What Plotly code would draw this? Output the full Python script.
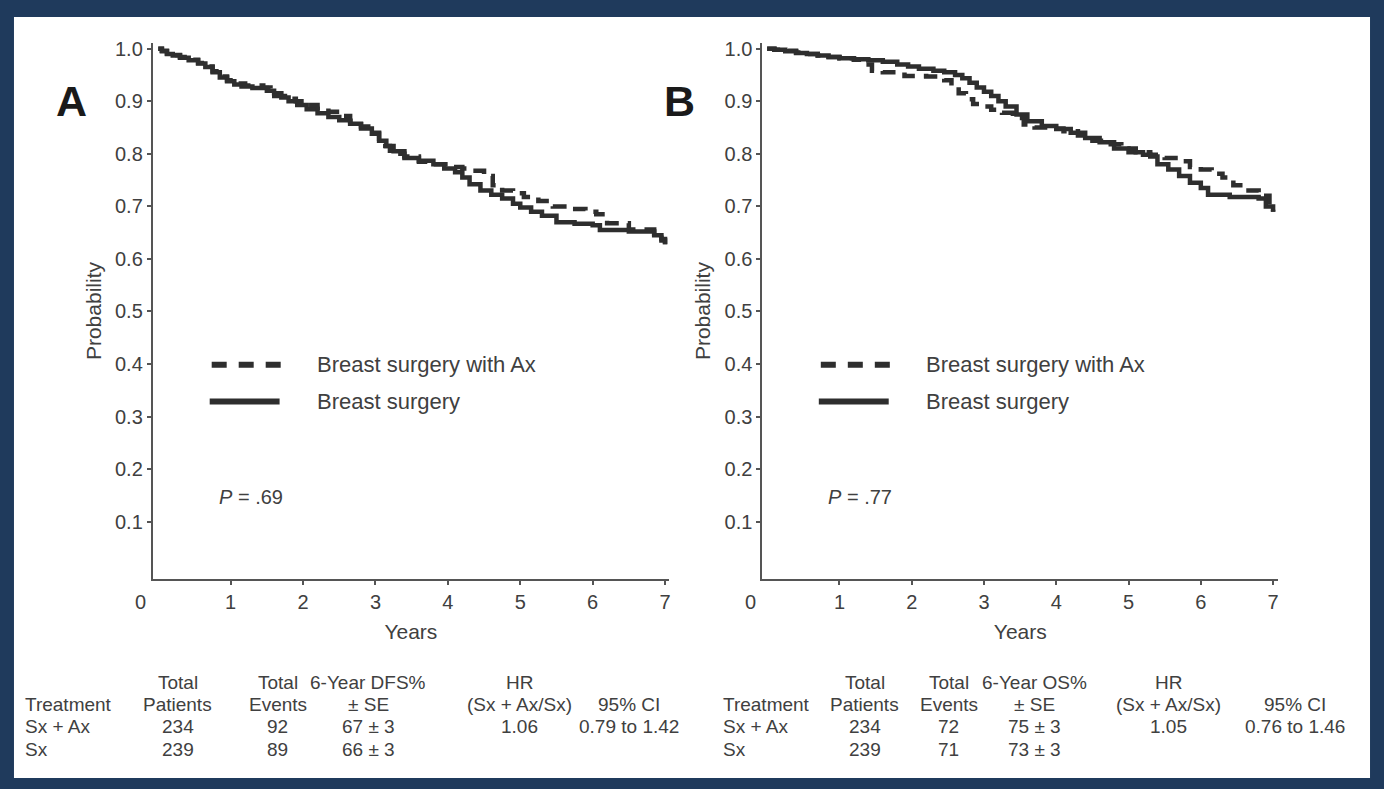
import plotly.graph_objects as go

W, H = 1384, 789

# ---------------- data ----------------
# Panel A: disease-free survival
a_sx_t = [0, 0.05, 0.12, 0.2, 0.3, 0.42, 0.55, 0.65, 0.75, 0.85, 0.95, 1.05, 1.15, 1.3, 1.5, 1.6, 1.7, 1.8,
          1.92, 2.05, 2.2, 2.35, 2.5, 2.65, 2.8, 2.95, 3.05, 3.15, 3.25, 3.4, 3.6, 3.8, 3.95, 4.1, 4.2, 4.3,
          4.45, 4.6, 4.75, 4.9, 5.0, 5.15, 5.3, 5.5, 5.75, 6.0, 6.1, 6.5, 6.85, 6.95, 7.0]
a_sx_p = [1.0, 0.995, 0.99, 0.987, 0.983, 0.978, 0.972, 0.965, 0.955, 0.945, 0.938, 0.932, 0.928, 0.925,
          0.92, 0.915, 0.907, 0.9, 0.893, 0.885, 0.877, 0.87, 0.864, 0.857, 0.848, 0.838, 0.825, 0.815,
          0.805, 0.792, 0.787, 0.78, 0.772, 0.765, 0.755, 0.742, 0.73, 0.722, 0.715, 0.705, 0.698, 0.69,
          0.682, 0.67, 0.667, 0.664, 0.655, 0.652, 0.645, 0.635, 0.628]
a_ax_t = [0, 0.05, 0.12, 0.2, 0.3, 0.42, 0.55, 0.65, 0.75, 0.85, 0.95, 1.05, 1.2, 1.45, 1.55, 1.75, 1.9,
          2.05, 2.2, 2.35, 2.5, 2.65, 2.8, 2.95, 3.05, 3.2, 3.4, 3.6, 3.8, 4.0, 4.2, 4.35, 4.5, 4.62, 4.75,
          4.9, 5.05, 5.25, 5.45, 5.65, 5.9, 6.05, 6.2, 6.5, 6.85, 6.95, 7.0]
a_ax_p = [1.0, 0.996, 0.991, 0.988, 0.984, 0.979, 0.973, 0.966, 0.957, 0.947, 0.94, 0.934, 0.93, 0.926,
          0.91, 0.905, 0.9, 0.893, 0.887, 0.88, 0.872, 0.862, 0.852, 0.84, 0.815, 0.8, 0.795, 0.785, 0.78,
          0.775, 0.772, 0.768, 0.758, 0.74, 0.73, 0.725, 0.718, 0.71, 0.7, 0.695, 0.69, 0.685, 0.668,
          0.656, 0.648, 0.638, 0.628]

# Panel B: overall survival
b_sx_t = [0, 0.1, 0.25, 0.4, 0.55, 0.7, 0.85, 1.0, 1.2, 1.4, 1.6, 1.8, 1.95, 2.1, 2.3, 2.45, 2.6, 2.7,
          2.8, 2.9, 3.0, 3.1, 3.2, 3.3, 3.45, 3.6, 3.8, 4.0, 4.2, 4.4, 4.6, 4.8, 5.0, 5.2, 5.3, 5.4, 5.55,
          5.7, 5.85, 6.0, 6.1, 6.4, 6.8, 6.9, 7.0]
b_sx_p = [1.0, 0.998, 0.995, 0.992, 0.99, 0.987, 0.984, 0.982, 0.98, 0.978, 0.975, 0.97, 0.966, 0.962,
          0.958, 0.955, 0.95, 0.944, 0.935, 0.926, 0.918, 0.91, 0.9, 0.89, 0.875, 0.862, 0.853, 0.847,
          0.84, 0.83, 0.822, 0.81, 0.803, 0.798, 0.795, 0.78, 0.77, 0.758, 0.745, 0.735, 0.722, 0.718,
          0.715, 0.70, 0.69]
b_ax_t = [0, 0.1, 0.25, 0.4, 0.55, 0.7, 0.85, 1.0, 1.2, 1.3, 1.45, 1.6, 1.9, 2.2, 2.45, 2.55, 2.65, 2.75,
          2.85, 2.95, 3.1, 3.25, 3.4, 3.55, 3.7, 3.9, 4.1, 4.3, 4.5, 4.7, 4.9, 5.1, 5.3, 5.5, 5.65, 5.85,
          6.0, 6.15, 6.3, 6.45, 6.6, 6.8, 6.95, 7.0]
b_ax_p = [1.0, 0.998, 0.996, 0.993, 0.99, 0.987, 0.984, 0.982, 0.979, 0.97, 0.958, 0.955, 0.948, 0.947,
          0.94, 0.928, 0.915, 0.904, 0.895, 0.89, 0.884, 0.878, 0.868, 0.856, 0.85, 0.848, 0.843, 0.835,
          0.825, 0.818, 0.81, 0.803, 0.798, 0.792, 0.786, 0.775, 0.77, 0.762, 0.755, 0.74, 0.73, 0.72,
          0.70, 0.69]

series_names = ["Breast surgery with Ax", "Breast surgery"]
p_values = ["<i>P</i> = .69", "<i>P</i> = .77"]
panel_letters = ["A", "B"]
y_ticks = [0.1, 0.2, 0.3, 0.4, 0.5, 0.6, 0.7, 0.8, 0.9, 1.0]
x_ticks = [1, 2, 3, 4, 5, 6, 7]

treatments = ["Sx + Ax", "Sx"]
A_header1 = ["", "Total", "Total", "6-Year DFS%", "HR", ""]
A_header2 = ["Treatment", "Patients", "Events", "± SE", "(Sx + Ax/Sx)", "95% CI"]
A_patients = ["234", "239"]
A_events = ["92", "89"]
A_rate = ["67 ± 3", "66 ± 3"]
A_hr = ["1.06", ""]
A_ci = ["0.79 to 1.42", ""]

B_header1 = ["", "Total", "Total", "6-Year OS%", "HR", ""]
B_header2 = ["Treatment", "Patients", "Events", "± SE", "(Sx + Ax/Sx)", "95% CI"]
B_patients = ["234", "239"]
B_events = ["72", "71"]
B_rate = ["75 ± 3", "73 ± 3"]
B_hr = ["1.05", ""]
B_ci = ["0.76 to 1.46", ""]

# ---------------- styling ----------------
FONT = "Liberation Sans, Arial, Helvetica, sans-serif"
TXT = "#404040"
LINE = "#2e2e2e"
AXC = "#555555"
NAVY = "#1f3a5c"
FS = 20
TFS = 19


def px(x):
    return x / W


def py(y):
    return 1 - y / H


fig = go.Figure()

panels = [
    dict(xa="x", ya="y", sx=(a_sx_t, a_sx_p), ax=(a_ax_t, a_ax_p)),
    dict(xa="x2", ya="y2", sx=(b_sx_t, b_sx_p), ax=(b_ax_t, b_ax_p)),
]
for pn in panels:
    fig.add_trace(go.Scatter(x=pn["sx"][0], y=pn["sx"][1], mode="lines", line_shape="hv",
                             line=dict(color=LINE, width=4.5), xaxis=pn["xa"], yaxis=pn["ya"],
                             name=series_names[1], showlegend=False))
    fig.add_trace(go.Scatter(x=pn["ax"][0], y=pn["ax"][1], mode="lines", line_shape="hv",
                             line=dict(color=LINE, width=4.5, dash="14px,9px"), xaxis=pn["xa"],
                             yaxis=pn["ya"], name=series_names[0], showlegend=False))

# pixel layout
y_top, y_bot = 38, 578
A_left, A_right = 153, 670
B_left, B_right = 763.5, 1280

common_y = dict(range=[-0.0096, 1.0113], tickvals=y_ticks, ticktext=[f"{v:.1f}" for v in y_ticks],
                showline=True, linecolor=AXC, linewidth=2, ticks="outside", ticklen=4, tickcolor=AXC,
                tickwidth=1.5, showgrid=False, zeroline=False,
                tickfont=dict(family=FONT, size=FS, color=TXT),
                title=dict(text="Probability", font=dict(family=FONT, size=FS + 1, color=TXT), standoff=8),
                domain=[py(y_bot), py(y_top)])
common_x = dict(tickvals=x_ticks, ticktext=[str(v) for v in x_ticks], showline=True, linecolor=AXC,
                linewidth=2, ticks="outside", ticklen=4, tickcolor=AXC, tickwidth=1.5, showgrid=False,
                zeroline=False, tickfont=dict(family=FONT, size=FS, color=TXT), ticklabelstandoff=0,
                title=dict(text="Years", font=dict(family=FONT, size=FS + 1, color=TXT), standoff=12))

fig.update_layout(
    width=W, height=H, margin=dict(l=0, r=0, t=0, b=0),
    paper_bgcolor=NAVY, plot_bgcolor="white",
    xaxis=dict(common_x, range=[-0.076, 7.055], domain=[px(A_left), px(A_right)], anchor="y"),
    yaxis=dict(common_y, anchor="x"),
    xaxis2=dict(common_x, range=[-0.066, 7.07], domain=[px(B_left), px(B_right)], anchor="y2"),
    yaxis2=dict(common_y, anchor="x2"),
    showlegend=False,
)

shapes = [dict(type="rect", xref="paper", yref="paper", x0=px(14), x1=px(1372), y0=py(778), y1=py(12),
               fillcolor="white", line=dict(width=0), layer="below")]
annotations = []

# legends, letters, P values, "0" labels
for i, (xoff, left) in enumerate([(0, A_left), (610, B_left)]):
    shapes.append(dict(type="line", xref="paper", yref="paper", x0=px(212 + xoff), x1=px(282 + xoff),
                       y0=py(362), y1=py(362), line=dict(color=LINE, width=6, dash="15px,12px")))
    shapes.append(dict(type="line", xref="paper", yref="paper", x0=px(210 + xoff), x1=px(280 + xoff),
                       y0=py(399), y1=py(399), line=dict(color=LINE, width=6)))
    annotations.append(dict(xref="paper", yref="paper", x=px(315 + xoff), y=py(362), text=series_names[0],
                            showarrow=False, xanchor="left", yanchor="middle",
                            font=dict(family=FONT, size=22, color=TXT)))
    annotations.append(dict(xref="paper", yref="paper", x=px(315 + xoff), y=py(399), text=series_names[1],
                            showarrow=False, xanchor="left", yanchor="middle",
                            font=dict(family=FONT, size=22, color=TXT)))
    annotations.append(dict(xref="paper", yref="paper", x=px(72 + 608 * i), y=py(97),
                            text=f"<b>{panel_letters[i]}</b>", showarrow=False, xanchor="center",
                            yanchor="middle", font=dict(family=FONT, size=43, color="#1a1a1a")))
    annotations.append(dict(xref="paper", yref="paper", x=px(251 + xoff), y=py(495), text=p_values[i],
                            showarrow=False, xanchor="center", yanchor="middle",
                            font=dict(family=FONT, size=FS, color=TXT)))
    annotations.append(dict(xref="paper", yref="paper", x=px(left - 12), y=py(601), text="0",
                            showarrow=False, xanchor="center", yanchor="middle",
                            font=dict(family=FONT, size=FS, color=TXT)))

# tables
rows_y = [682, 704, 726, 749]
tables = [
    (A_header1, A_header2, A_patients, A_events, A_rate, A_hr, A_ci, 23, [178, 278, 369, 520, 630]),
    (B_header1, B_header2, B_patients, B_events, B_rate, B_hr, B_ci, 722, [866, 950, 1036, 1170, 1297]),
]
for h1, h2, pat, ev, rate, hr, ci, left_x, centers in tables:
    grid = [h1, h2] + [[treatments[r], pat[r], ev[r], rate[r], hr[r], ci[r]] for r in range(2)]
    for r, row in enumerate(grid):
        for c, txt in enumerate(row):
            if not txt:
                continue
            if c == 0:
                annotations.append(dict(xref="paper", yref="paper", x=px(left_x), y=py(rows_y[r]), text=txt,
                                        showarrow=False, xanchor="left", yanchor="middle",
                                        font=dict(family=FONT, size=TFS, color=TXT)))
            else:
                annotations.append(dict(xref="paper", yref="paper", x=px(centers[c - 1]), y=py(rows_y[r]),
                                        text=txt, showarrow=False, xanchor="center", yanchor="middle",
                                        font=dict(family=FONT, size=TFS, color=TXT)))

fig.update_layout(shapes=shapes, annotations=annotations)
fig.write_html("out.html")
